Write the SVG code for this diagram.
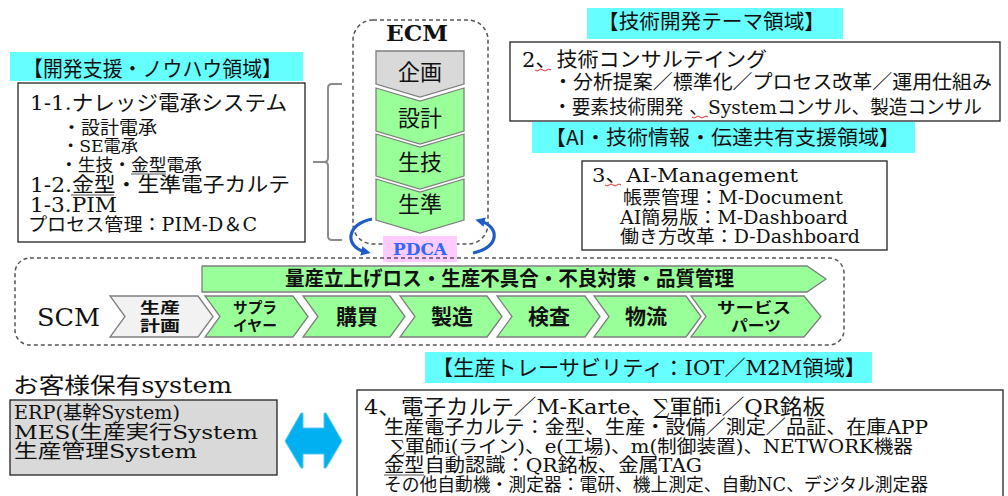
<svg xmlns="http://www.w3.org/2000/svg" width="1008" height="496" viewBox="0 0 1008 496">
<style>
.t{font-family:"DejaVu Serif","Noto Sans CJK JP",serif;fill:#111}
.g{font-family:"Noto Sans CJK JP",sans-serif;fill:#111}
.b{font-weight:700}
.cy{fill:#66ffff}
.box{fill:#fff;stroke:#222;stroke-width:1.3}
.dash{fill:none;stroke:#555;stroke-width:1.5;stroke-dasharray:4 3}
.gr{fill:#99ff99;stroke:#7f7f7f;stroke-width:1.3}
.gy{fill:#d9d9d9;stroke:#7f7f7f;stroke-width:1.3}
.lg{fill:#f2f2f2;stroke:#7f7f7f;stroke-width:1.3}
.sq{fill:none;stroke:#e03030;stroke-width:1}
.ul{stroke:#555;stroke-width:1}
.pd{fill:none;stroke:#1f5cc8;stroke-width:3.2}
</style>
<defs>
<marker id="ah" viewBox="0 0 10 10" refX="5" refY="5" markerWidth="3" markerHeight="3" orient="auto" markerUnits="strokeWidth">
<path d="M0,0 L10,5 L0,10 z" fill="#1f5cc8"/>
</marker>
</defs>
<rect width="1008" height="496" fill="#fff"/>

<!-- Left: development support -->
<g id="area1">
<rect class="cy" x="10" y="52" width="293" height="29"/>
<text class="g" x="23" y="76" font-size="21" textLength="259" lengthAdjust="spacingAndGlyphs">【開発支援・ノウハウ領域】</text>
<rect class="box" x="18" y="83" width="287" height="159"/>
<text class="t" x="30" y="110" font-size="21" textLength="257" lengthAdjust="spacingAndGlyphs">1-1.ナレッジ電承システム</text>
<text class="t" x="62" y="134" font-size="18" textLength="95" lengthAdjust="spacingAndGlyphs">・設計電承</text>
<text class="t" x="62" y="152" font-size="17" textLength="76" lengthAdjust="spacingAndGlyphs">・SE電承</text>
<text class="t" x="60" y="171" font-size="17.5" textLength="142" lengthAdjust="spacingAndGlyphs">・生技・金型電承</text>
<line class="ul" x1="131" y1="174" x2="166" y2="174"/>
<text class="t" x="30" y="192" font-size="20.5" textLength="260" lengthAdjust="spacingAndGlyphs">1-2.金型・生準電子カルテ</text>
<line class="ul" x1="71" y1="195" x2="114" y2="195"/>
<text class="t" x="30" y="212" font-size="20.5" textLength="87" lengthAdjust="spacingAndGlyphs">1-3.PIM</text>
<text class="t" x="28" y="231" font-size="18.5" textLength="229" lengthAdjust="spacingAndGlyphs">プロセス管理：PIM-D＆C</text>
</g>

<!-- Brace -->
<g id="brace">
<path d="M342,84 H332 Q328,84 328,88 V158 Q328,162 324,162 H313 M324,162 Q328,162 328,166 V236 Q328,240 332,240 H342" fill="none" stroke="#8c8c8c" stroke-width="2"/>
</g>

<!-- ECM -->
<g id="ecm">
<rect class="dash" x="353" y="20" width="135" height="224" rx="20"/>
<text class="t b" x="386" y="41" font-size="22" textLength="62" lengthAdjust="spacingAndGlyphs">ECM</text>
<polygon class="gy" points="376,51 464,51 464,84 420,97 376,84"/>
<polygon class="gr" points="376,88 420,101 464,88 464,131 420,144 376,131"/>
<polygon class="gr" points="376,134 420,147 464,134 464,176 420,189 376,176"/>
<polygon class="gr" points="376,179 420,192 464,179 464,220 420,233 376,220"/>
<text class="g" x="420" y="80" font-size="22" text-anchor="middle">企画</text>
<text class="g" x="420" y="126" font-size="22" text-anchor="middle">設計</text>
<text class="g" x="420" y="170" font-size="22" text-anchor="middle">生技</text>
<text class="g" x="420" y="212" font-size="22" text-anchor="middle">生準</text>
</g>

<g id="pdca">
<path class="pd" d="M372,219 C346,224 344,247 366,252" marker-end="url(#ah)"/>
<path class="pd" d="M473,253 C500,248 500,226 480,221" marker-end="url(#ah)"/>
<rect x="383" y="236" width="74" height="26" fill="#ffccff"/>
<text class="t b" x="393" y="255" font-size="16" textLength="54" lengthAdjust="spacingAndGlyphs" style="fill:#3366ff">PDCA</text>
</g>

<!-- Tech consulting -->
<g id="area2">
<rect class="cy" x="587" y="8" width="256" height="31"/>
<text class="g" x="598" y="29" font-size="20.5" textLength="227" lengthAdjust="spacingAndGlyphs">【技術開発テーマ領域】</text>
<rect class="box" x="510" y="42" width="490" height="79"/>
<text class="t" x="522" y="67" font-size="20.5" textLength="245" lengthAdjust="spacingAndGlyphs">2、技術コンサルテイング</text>
<path class="sq" d="M535,70 q2,2 4,0 t4,0 t4,0 t4,0"/>
<text class="t" x="553" y="89" font-size="19.5" textLength="439" lengthAdjust="spacingAndGlyphs">・分析提案／標準化／プロセス改革／運用仕組み</text>
<text class="t" x="553" y="114" font-size="19" textLength="429" lengthAdjust="spacingAndGlyphs">・要素技術開発 、Systemコンサル、製造コンサル</text>
<path class="sq" d="M692,117 q2,2 4,0 t4,0 t4,0 t4,0"/>
</g>

<!-- AI -->
<g id="area3">
<rect class="cy" x="532" y="122" width="383" height="31"/>
<text class="g" x="545" y="145" font-size="20.5" textLength="355" lengthAdjust="spacingAndGlyphs">【AI・技術情報・伝達共有支援領域】</text>
<rect class="box" x="582" y="161" width="305" height="89"/>
<text class="t" x="592" y="182" font-size="19" textLength="206" lengthAdjust="spacingAndGlyphs">3、AI-Management</text>
<path class="sq" d="M605,185 q2,2 4,0 t4,0 t4,0 t4,0"/>
<text class="t" x="623" y="204" font-size="18" textLength="220" lengthAdjust="spacingAndGlyphs">帳票管理：M-Document</text>
<text class="t" x="620" y="224" font-size="18" textLength="228" lengthAdjust="spacingAndGlyphs">AI簡易版：M-Dashboard</text>
<text class="t" x="620" y="243" font-size="18" textLength="240" lengthAdjust="spacingAndGlyphs">働き方改革：D-Dashboard</text>
</g>

<!-- SCM -->
<g id="scm">
<rect class="dash" x="15" y="258" width="829" height="87" rx="15"/>
<polygon class="gr" points="202,266 807,266 826,279 807,292 202,292"/>
<text class="g b" x="285" y="286" font-size="20" textLength="449" lengthAdjust="spacingAndGlyphs">量産立上げロス・生産不具合・不良対策・品質管理</text>
<text class="t" x="37" y="326" font-size="24" textLength="63" lengthAdjust="spacingAndGlyphs">SCM</text>
<polygon class="lg" points="110,296 198,296 213,316.5 198,337 110,337 125,316.5"/>
<polygon class="gr" points="205,296 293,296 308,316.5 293,337 205,337 220,316.5"/>
<polygon class="gr" points="303,296 390,296 405,316.5 390,337 303,337 318,316.5"/>
<polygon class="gr" points="400,296 487,296 502,316.5 487,337 400,337 415,316.5"/>
<polygon class="gr" points="497,296 585,296 600,316.5 585,337 497,337 512,316.5"/>
<polygon class="gr" points="594,296 686,296 701,316.5 686,337 594,337 609,316.5"/>
<polygon class="gr" points="691,296 804,296 821,316.5 804,337 691,337 706,316.5"/>
<text class="g b" x="160" y="313" font-size="15" text-anchor="middle" textLength="40" lengthAdjust="spacingAndGlyphs">生産</text>
<text class="g b" x="160" y="331" font-size="15" text-anchor="middle" textLength="40" lengthAdjust="spacingAndGlyphs">計画</text>
<text class="g b" x="255" y="313" font-size="15" text-anchor="middle" textLength="44" lengthAdjust="spacingAndGlyphs">サプラ</text>
<text class="g b" x="255" y="331" font-size="15" text-anchor="middle" textLength="44" lengthAdjust="spacingAndGlyphs">イヤー</text>
<text class="g b" x="357" y="324" font-size="21" text-anchor="middle">購買</text>
<text class="g b" x="452" y="324" font-size="21" text-anchor="middle">製造</text>
<text class="g b" x="549" y="324" font-size="21" text-anchor="middle">検査</text>
<text class="g b" x="646" y="324" font-size="21" text-anchor="middle">物流</text>
<text class="g b" x="754" y="313" font-size="15" text-anchor="middle" textLength="74" lengthAdjust="spacingAndGlyphs">サービス</text>
<text class="g b" x="756" y="331" font-size="15" text-anchor="middle" textLength="50" lengthAdjust="spacingAndGlyphs">パーツ</text>
</g>

<!-- Customer systems -->
<g id="customer">
<text class="t" x="13" y="393" font-size="22" textLength="219" lengthAdjust="spacingAndGlyphs">お客様保有system</text>
<rect x="10" y="400" width="267" height="75" fill="#d9d9d9" stroke="#222" stroke-width="1.3"/>
<text class="t" x="14" y="419" font-size="18.5" textLength="166" lengthAdjust="spacingAndGlyphs">ERP(基幹System)</text>
<text class="t" x="14" y="439" font-size="19" textLength="244" lengthAdjust="spacingAndGlyphs">MES(生産実行System</text>
<text class="t" x="14" y="458" font-size="19" textLength="183" lengthAdjust="spacingAndGlyphs">生産管理System</text>
</g>

<g id="connectors">
<polygon points="285,441 301,413 303,413 303,428 324,428 324,413 326,413 342,441 326,468 324,468 324,454 303,454 303,468 301,468" fill="#00b0f0" stroke="#59c8f0" stroke-width="1"/>
</g>

<!-- Traceability -->
<g id="area4">
<rect class="cy" x="425" y="352" width="447" height="31"/>
<text class="t" x="432" y="375" font-size="21" textLength="434" lengthAdjust="spacingAndGlyphs">【生産トレーサビリティ：IOT／M2M領域】</text>
<rect class="box" x="357" y="390" width="646" height="115"/>
<text class="t" x="364" y="414" font-size="21" textLength="461" lengthAdjust="spacingAndGlyphs">4、電子カルテ／M-Karte、∑軍師i／QR銘板</text>
<text class="t" x="384" y="434" font-size="19" textLength="544" lengthAdjust="spacingAndGlyphs">生産電子カルテ：金型、生産・設備／測定／品証、在庫APP</text>
<text class="t" x="391" y="453" font-size="18" textLength="522" lengthAdjust="spacingAndGlyphs">∑軍師i(ライン)、e(工場)、m(制御装置)、NETWORK機器</text>
<text class="t" x="384" y="472" font-size="19" textLength="318" lengthAdjust="spacingAndGlyphs">金型自動認識：QR銘板、金属TAG</text>
<line class="ul" x1="384" y1="475" x2="424" y2="475"/>
<text class="t" x="384" y="491" font-size="18" textLength="544" lengthAdjust="spacingAndGlyphs">その他自動機・測定器：電研、機上測定、自動NC、デジタル測定器</text>
</g>
</svg>
